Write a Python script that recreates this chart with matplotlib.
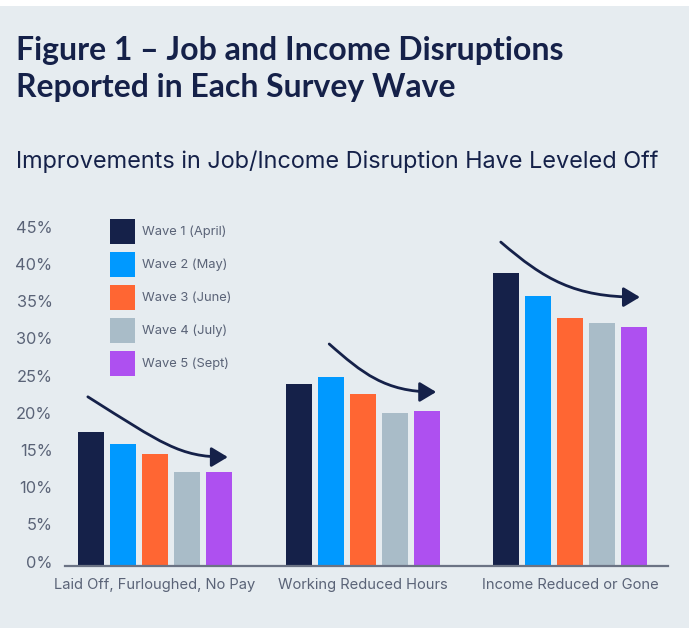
import matplotlib
matplotlib.use("Agg")
import matplotlib.pyplot as plt
import matplotlib.transforms as mtransforms
from matplotlib.patches import Rectangle, FancyArrowPatch
from matplotlib.path import Path

# data
categories = ["Laid Off, Furloughed, No Pay", "Working Reduced Hours", "Income Reduced or Gone"]
waves = ["Wave 1 (April)", "Wave 2 (May)", "Wave 3 (June)", "Wave 4 (July)", "Wave 5 (Sept)"]
wave1 = [18.0, 24.4, 39.3]
wave2 = [16.4, 25.4, 36.2]
wave3 = [15.0, 23.1, 33.3]
wave4 = [12.6, 20.5, 32.6]
wave5 = [12.6, 20.8, 32.1]
yticks = [0, 5, 10, 15, 20, 25, 30, 35, 40, 45]

colors = ["#152149", "#0099ff", "#ff6633", "#a9bcc8", "#ae50f0"]
navy = "#152149"
gray_txt = "#5a6377"
bg = "#e6ecf0"

# trend arrows: bezier control points (offset from group centre, value in %)
arrows = [
    [(-0.323, 22.7), (0.035, 16.4), (0.120, 14.6), (0.351, 14.6)],
    [(-0.161, 29.8), (-0.002, 25.9), (0.108, 23.35), (0.354, 23.35)],
    [(-0.335, 43.5), (-0.123, 38.4), (0.022, 36.1), (0.335, 36.1)],
]

W, H = 689, 628
fig = plt.figure(figsize=(W / 100, H / 100), dpi=100, facecolor="white")
fig.patches.append(Rectangle((0, 0), 1, (H - 6) / H, transform=fig.transFigure,
                             facecolor=bg, edgecolor="none", zorder=-10))

plt.rcParams["font.family"] = ["Inter", "DejaVu Sans"]

ax = fig.add_axes([65 / W, (H - 565.7) / H, 603 / W, 334.8 / H])
ax.set_facecolor("none")
ax.set_xlim(-0.433, 2.470)
ax.set_ylim(0, 45)

series = [wave1, wave2, wave3, wave4, wave5]
step, width = 0.154, 0.125
for i, (vals, name) in enumerate(zip(series, waves)):
    xs = [g + (i - 2) * step for g in range(len(categories))]
    ax.bar(xs, vals, width=width, color=colors[i], label=name, zorder=2)

for g, pts in enumerate(arrows):
    verts = [(g + dx, y) for dx, y in pts]
    path = Path(verts, [Path.MOVETO, Path.CURVE4, Path.CURVE4, Path.CURVE4])
    arr = FancyArrowPatch(path=path, arrowstyle="-|>,head_length=0.5,head_width=0.3",
                          mutation_scale=20, color=navy, lw=2.0, zorder=3,
                          transform=ax.transData)
    ax.add_patch(arr)

for s in ["top", "right", "left"]:
    ax.spines[s].set_visible(False)
ax.spines["bottom"].set_color("#6b7384")
ax.spines["bottom"].set_linewidth(1.6)

ax.set_yticks(yticks)
ax.set_yticklabels([f"{v}%" for v in yticks], fontsize=11.8, color=gray_txt)
ax.set_xticks(range(len(categories)))
ax.set_xticklabels(categories, fontsize=10.6, color=gray_txt)
ax.tick_params(axis="y", length=0, pad=9)
ax.tick_params(axis="x", length=0, pad=9)
shift = mtransforms.ScaledTranslation(0, 3 / 72, fig.dpi_scale_trans)
for lab in ax.get_yticklabels():
    lab.set_transform(lab.get_transform() + shift)

# legend drawn by hand: 25 px squares, 33 px rows
for i, (name, c) in enumerate(zip(waves, colors)):
    top = 219 + 33 * i
    fig.add_artist(Rectangle((110 / W, 1 - (top + 25) / H), 25 / W, 25 / H,
                             transform=fig.transFigure, facecolor=c, edgecolor="none"))
    fig.text(142 / W, 1 - (top + 13) / H, name, fontsize=9.3, color=gray_txt,
             va="center", ha="left")


def fit_text(x, y_base, s, width_px, size, **kw):
    t = fig.text(x / W, 1 - y_base / H, s, va="baseline", ha="left", fontsize=size, **kw)
    r = fig.canvas.get_renderer()
    bb = t.get_window_extent(renderer=r)
    t.set_fontsize(size * width_px / bb.width)
    return t


fit_text(16, 60, "Figure 1 \u2013 Job and Income Disruptions", 547, 20,
         color=navy, fontweight="bold", family=["Lato", "DejaVu Sans"])
fit_text(16, 97, "Reported in Each Survey Wave", 440, 20,
         color=navy, fontweight="bold", family=["Lato", "DejaVu Sans"])
fit_text(16, 168, "Improvements in Job/Income Disruption Have Leveled Off", 646, 16,
         color=navy)

fig.savefig("out.png", dpi=100, facecolor=fig.get_facecolor())
